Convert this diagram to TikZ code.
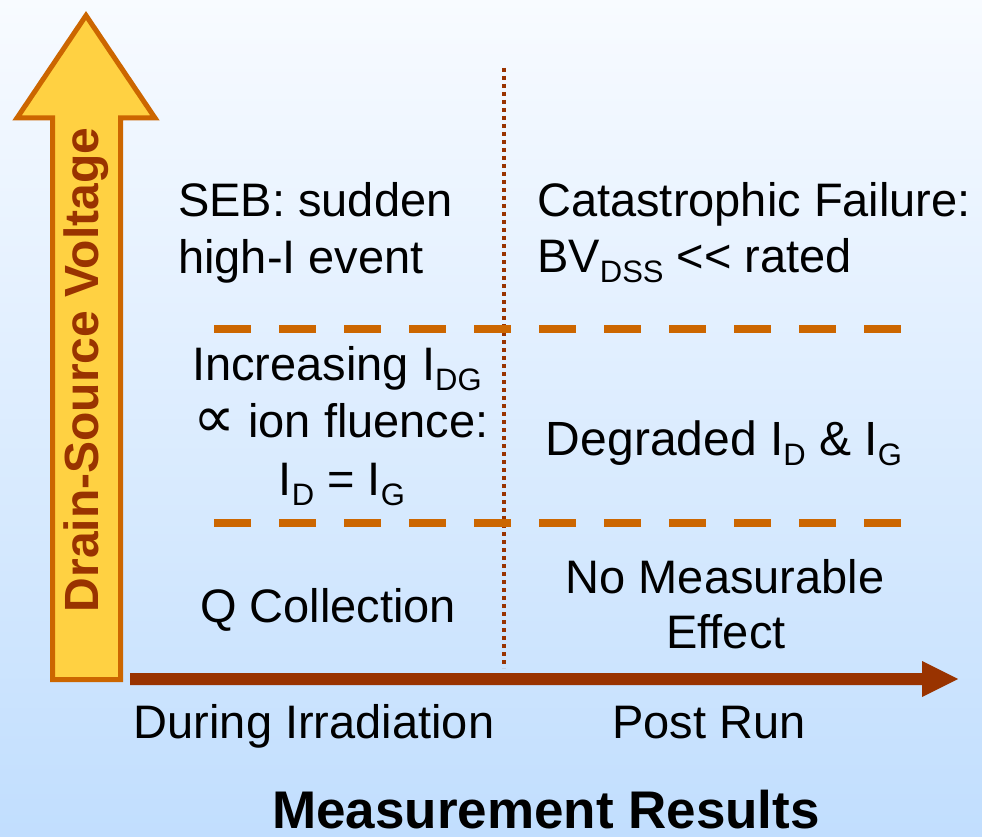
\documentclass[tikz,border=0pt]{standalone}
\usepackage{fontspec}
\setmainfont{Liberation Sans}
\newfontfamily\dejavu{DejaVu Sans}
\newcommand\subx[1]{\raisebox{-0.22em}{\fontsize{31}{31}\selectfont #1}}
\definecolor{bgtop}{RGB}{248,251,255}
\definecolor{bgbot}{RGB}{193,222,254}
\definecolor{rust}{RGB}{153,51,0}
\definecolor{orng}{RGB}{204,102,0}
\definecolor{yell}{RGB}{255,209,66}
\tikzset{
  lbl/.style={inner sep=0pt, font=\fontsize{47}{56}\selectfont, text=black},
  dashline/.style={draw=orng, line width=8.5pt, dash pattern=on 37pt off 28pt},
}
\begin{document}
\begin{tikzpicture}[x=1pt,y=-1pt]
\useasboundingbox (0,0) rectangle (982,837);
\shade[top color=bgtop, bottom color=bgbot] (0,0) rectangle (982,837);

% big yellow arrow
\draw[fill=yell, draw=orng, line width=5pt, line join=miter]
  (52.5,679.5) -- (52.5,118) -- (17,118) -- (86,15.5) -- (155,118)
  -- (120.5,118) -- (120.5,679.5) -- cycle;
\node[rotate=90, inner sep=0pt, text=rust, font=\bfseries\fontsize{48}{56}\selectfont]
  (yaxis) at (86,370) {Drain-Source Voltage};

% horizontal arrow
\fill[rust] (130,673) -- (922,673) -- (922,661) -- (958,679) -- (922,697) -- (922,685) -- (130,685) -- cycle;

% dotted divider
\coordinate (dtop) at (504,68);
\coordinate (dbot) at (504,668);
\draw[rust, line width=4pt, dash pattern=on 4pt off 4pt] (dtop) -- (dbot);

% dashed thresholds
\coordinate (d1a) at (214,329);
\coordinate (d1b) at (905,329);
\coordinate (d2a) at (214,523);
\coordinate (d2b) at (905,523);
\draw[dashline] (d1a) -- (d1b);
\draw[dashline] (d2a) -- (d2b);

% texts
\node[lbl, anchor=base west] (seb1) at (178,217) {SEB: sudden};
\node[lbl, anchor=base west] (seb2) at (178,273) {high-I event};
\node[lbl, anchor=base west] (cat1) at (537,216) {Catastrophic Failure:};
\node[lbl, anchor=base west] (cat2) at (537,272) {BV\subx{DSS} {<}{<} rated};

\node[lbl, anchor=base] (inc1) at (337,380) {Increasing I\subx{DG}};
\node[lbl, anchor=base] (inc2) at (341,437) {{\dejavu\scalebox{1.25}{∝}} ion fluence:};
\node[lbl, anchor=base] (inc3) at (342,495) {I\subx{D} = I\subx{G}};

\node[lbl, anchor=base, font=\fontsize{48}{56}\selectfont] (deg) at (724,455) {Degraded I\subx{D} \& I\subx{G}};

\node[lbl, anchor=base] (qc) at (328,622) {Q Collection};
\node[lbl, anchor=base] (nm1) at (725,593) {No Measurable};
\node[lbl, anchor=base] (nm2) at (726,648) {Effect};

\node[lbl, anchor=base] (dur) at (314,738) {During Irradiation};
\node[lbl, anchor=base] (post) at (709,738) {Post Run};

\node[inner sep=0pt, anchor=base, font=\bfseries\fontsize{53}{60}\selectfont] (title) at (546,828) {Measurement Results};
\end{tikzpicture}
\end{document}
